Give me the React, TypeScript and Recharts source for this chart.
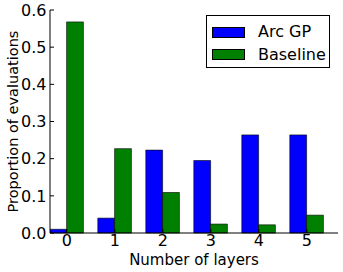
import React from 'react';
import { BarChart, Bar, XAxis, YAxis, Legend, Label } from 'recharts';

// number of layers (category) and proportion of evaluations per method
const layers = [0, 1, 2, 3, 4, 5];
const arcGP = [0.01, 0.04, 0.223, 0.195, 0.264, 0.264];
const baseline = [0.568, 0.227, 0.109, 0.024, 0.022, 0.048];
const yTicks = [0, 0.1, 0.2, 0.3, 0.4, 0.5, 0.6];

// matplotlib style: bars at i with width 0.35, tick at i + 0.35
const BAR_W = 0.35;
const data = layers.map((n, i) => ({ pos: n + BAR_W, arcGP: arcGP[i], baseline: baseline[i] }));
const xTicks = layers.map((n) => n + BAR_W);

const FONT = 'DejaVu Sans, sans-serif';

const series = [
    { name: 'Arc GP', color: '#0000ff' },
    { name: 'Baseline', color: '#008000' },
];

const LegendBox = () => (
    <div style={{ width: 122, height: 51, border: '1px solid #000', background: '#fff', fontFamily: FONT, fontSize: 16, position: 'relative' }}>
        {series.map((s, i) => (
            <div key={s.name} style={{ position: 'absolute', left: 5, top: 10 + i * 22.5, display: 'flex', alignItems: 'center' }}>
                <div style={{ width: 33, height: 11, background: s.color, border: '0.5px solid #000', boxSizing: 'border-box' }} />
                <span style={{ marginLeft: 13, lineHeight: '12px', color: '#000' }}>{s.name}</span>
            </div>
        ))}
    </div>
);

const App: React.FC = () => {
    const tickStyle = { fontFamily: FONT, fontSize: 16, fill: '#000' };
    return (
        <div style={{ position: 'fixed', left: 0, top: 0, background: '#fff' }}>
            <BarChart width={343} height={272} data={data} margin={{ top: 10, right: 5, left: 0, bottom: 0 }} barGap={0} barSize={16.8}>
                <XAxis
                    xAxisId="b"
                    dataKey="pos"
                    type="number"
                    domain={[0, 6]}
                    ticks={xTicks}
                    tickFormatter={(v: number) => String(Math.round(v - BAR_W))}
                    height={39}
                    tickSize={-4}
                    tickMargin={6}
                    tick={tickStyle}
                    stroke="#000"
                    allowDataOverflow
                >
                    <Label
                        content={({ viewBox }: any) => (
                            <text x={viewBox.x + viewBox.width / 2} y={viewBox.y + 26.5} textAnchor="middle" dominantBaseline="central" style={{ fontFamily: FONT, fontSize: 15 }} fill="#000">
                                Number of layers
                            </text>
                        )}
                    />
                </XAxis>
                <XAxis
                    xAxisId="t"
                    orientation="top"
                    dataKey="pos"
                    type="number"
                    domain={[0, 6]}
                    ticks={xTicks}
                    height={0}
                    tickSize={-4}
                    tick={false}
                    stroke="#000"
                    allowDataOverflow
                />
                <YAxis
                    yAxisId="l"
                    domain={[0, 0.6]}
                    ticks={yTicks}
                    tickFormatter={(v: number) => v.toFixed(1)}
                    width={50}
                    tickSize={-4}
                    tickMargin={7.5}
                    tick={tickStyle}
                    stroke="#000"
                >
                    <Label
                        content={({ viewBox }: any) => {
                            const cx = viewBox.x + 13;
                            const cy = viewBox.y + viewBox.height / 2;
                            return (
                                <text x={cx} y={cy} transform={`rotate(-90 ${cx} ${cy})`} textAnchor="middle" dominantBaseline="central" style={{ fontFamily: FONT, fontSize: 14.5 }} fill="#000">
                                    Proportion of evaluations
                                </text>
                            );
                        }}
                    />
                </YAxis>
                <YAxis yAxisId="r" orientation="right" domain={[0, 0.6]} ticks={yTicks} width={0} tickSize={-4} tick={false} stroke="#000" />
                <Legend
                    layout="horizontal"
                    verticalAlign="middle"
                    align="center"
                    wrapperStyle={{ left: 206, top: 15, width: 124 }}
                    content={() => <LegendBox />}
                />
                <Bar xAxisId="b" yAxisId="l" dataKey="arcGP" name="Arc GP" fill="#0000ff" stroke="#000" strokeWidth={0.6} isAnimationActive={false} />
                <Bar xAxisId="b" yAxisId="l" dataKey="baseline" name="Baseline" fill="#008000" stroke="#000" strokeWidth={0.6} isAnimationActive={false} />
            </BarChart>
        </div>
    );
};

export default App;
